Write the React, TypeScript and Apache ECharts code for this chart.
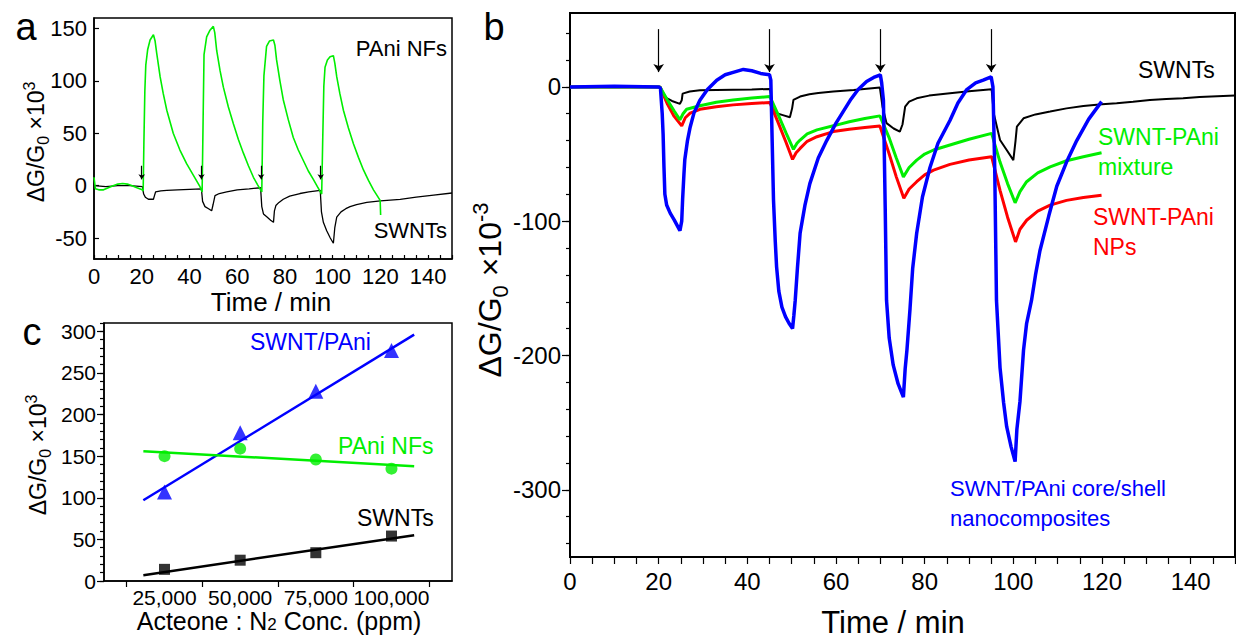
import React, { useEffect, useRef } from 'react';
import * as echarts from 'echarts';

const FONT = 'Arial, "Liberation Sans", Helvetica, sans-serif';
const GREEN = '#00ee00';
const RED = '#ff0000';
const BLUE = '#0000ff';
const BLACK = '#000000';

// ---------- Panel a : time traces (min, ΔG/G0 ×10^3) ----------
const aSwnts: [number, number][] = [
  [0, 0], [5, -1], [10, 0], [15, 0], [20.3, -1], [20.8, -8], [21.5, -11], [22.8, -13], [24.9, -13],
  [25.4, -9], [25.8, -6], [28, -5], [30.5, -4.5], [35, -4], [40, -3.5], [45, -3],
  [45.5, -15], [46.5, -20], [48, -22], [49.3, -24], [49.9, -18], [50.7, -9.5], [52.5, -7.5], [55.6, -6],
  [60, -4], [65, -3], [69.8, -2], [70.3, -20], [71, -27], [72.5, -30], [74, -33], [75.2, -35],
  [75.6, -24], [76.2, -19], [77.5, -16], [79.3, -13], [82, -10], [86.3, -7.5], [90, -6], [94.8, -4.5],
  [95.3, -25], [96.1, -35], [97.5, -43], [99, -50], [100.3, -55], [100.9, -40], [101.7, -30], [103.5, -25],
  [105.5, -22], [107.3, -20], [110, -18], [114.3, -16], [120, -14.5], [128.3, -13], [135, -11],
  [142.3, -9], [150, -7],
];
const aPaniNFs: [number, number][] = [
  [0, 8], [0.6, -3], [2, -4], [4, -4], [6, -2], [8, 0], [10, 1.5], [12, 2], [14, 1.5], [16, 0], [18, -2],
  [20.2, -4], [20.6, -5],
  [20.9, 40], [21.3, 90], [21.7, 115], [22.5, 130], [23.5, 139], [24.9, 144], [25.6, 138], [26.3, 126],
  [27.7, 104], [29, 88], [30.5, 72], [33.2, 50], [36, 34], [38.8, 21], [41.6, 10], [44.4, -1], [45.3, -6],
  [45.7, 60], [46.1, 125], [47.2, 142], [48.5, 148], [50, 152], [50.6, 146], [51.4, 129], [52.8, 110],
  [54.2, 94], [56.3, 75], [58.4, 59], [60.5, 44], [62.6, 31], [64.7, 19], [66.8, 8], [68.5, 1], [70.3, -6],
  [70.7, 60], [71.2, 105], [72.3, 133], [73.5, 138], [75.2, 139], [75.8, 134], [76.5, 120], [77.9, 100],
  [79.3, 82], [81.4, 63], [83.5, 46], [85.6, 34], [87.7, 24], [89.8, 14], [91.9, 6], [93.6, -1], [95.4, -8],
  [95.8, 40], [96.3, 95], [96.8, 113], [97.8, 120], [98.9, 123], [100.3, 124], [100.9, 117], [101.7, 104],
  [103, 88], [104.5, 72], [106.6, 55], [108.7, 40], [110.8, 27], [112.9, 15], [115, 5], [117.1, -4],
  [119.9, -14], [120.1, -28],
];
const aArrowTimes = [20, 45, 70, 95];
const aArrowFrom = 19;
const aArrowTo = 6;

// ---------- Panel b : time traces (min, ΔG/G0 ×10^-3) ----------
const bSwnts: [number, number][] = [
  [0, 0], [10, 0], [20.3, 0], [21, -5], [21.8, -8.4], [23, -10.5], [24.8, -12.7], [25.2, -10], [25.4, -5],
  [27, -3.5], [29.3, -2.5], [33, -2.3], [36.8, -2.1], [41, -1.9], [45.1, -1.5],
  [45.6, -12], [46.6, -19.6], [48, -21], [49.6, -22.6], [50.1, -16], [50.4, -9.7], [51.9, -7.2], [54, -5.5],
  [56, -4.6], [59.4, -3.5], [64, -2.3], [69.9, -0.5],
  [70.5, -15], [71.4, -27], [73, -31], [74.4, -33.3], [75, -28], [75.6, -14.7], [76.5, -11], [78.2, -8.5],
  [81, -6.5], [85.7, -4.7], [90, -3.3], [95.1, -1.7],
  [95.6, -20], [97, -39.6], [98.5, -47], [100, -54.5], [100.5, -40], [100.8, -29.6], [102.3, -23.4],
  [105, -20.5], [108.3, -18.4], [112, -16], [115.8, -14.2], [120, -13], [123.3, -12.2], [127, -11],
  [130.8, -9.7], [134.5, -9], [138.3, -8.5], [142, -7.5], [146, -7], [150, -6.5],
];
const bNPs: [number, number][] = [
  [0, 0], [20.3, 0], [22, -13], [23.5, -22], [25.2, -29], [26, -23], [27.1, -19.6], [29.3, -16.7], [33, -14.8],
  [36.8, -13.4], [41, -12.3], [45.1, -11.7],
  [47, -27], [48.7, -41], [50.2, -54], [51, -49], [51.9, -45.8], [53.5, -40.5], [55.7, -37.1], [59.4, -33.3],
  [63, -31.5], [66.5, -30.2], [69.9, -29.1],
  [72, -50], [73.6, -67], [75.3, -83], [76.5, -76], [78.2, -70.6], [80, -65.5], [82, -62], [85.7, -57.7],
  [90, -54.5], [95.1, -52],
  [97, -77], [98.7, -97], [100.5, -115.4], [101.5, -106], [103, -99.3], [105.5, -92.5], [108.3, -88],
  [112, -84.5], [115.8, -82.3], [119.9, -80.6],
];
const bMixture: [number, number][] = [
  [0, 0], [20.3, 0], [22, -10], [23.5, -18], [24.8, -24.6], [25.5, -20], [26.3, -16.7], [29.3, -14], [33, -11.5],
  [36.8, -9.7], [41, -8.2], [45.1, -7.2],
  [47, -21], [48.7, -34], [50.4, -46.5], [51.2, -42], [51.9, -39.6], [53.5, -35], [55.7, -32], [59.4, -29],
  [63, -26], [66.5, -23.5], [69.9, -21.6],
  [72, -38], [73.6, -53], [75.2, -67], [76.5, -60], [78.2, -54.5], [80, -50], [82, -47], [85.7, -43.3],
  [90, -39], [95.1, -34.6],
  [97, -56], [98.7, -72], [100.4, -86.3], [101.5, -78], [103, -70.6], [105.5, -64], [108.3, -59.5],
  [112, -55], [115.8, -52], [119.9, -49],
];
const bCoreShell: [number, number][] = [
  [0, 0], [10, 0.5], [20, 0], [20.4, -1], [20.8, -20], [21, -35], [21.2, -60], [21.4, -80], [21.8, -88],
  [22.6, -94], [23.5, -99], [24.8, -107], [25.2, -100], [25.4, -84], [25.7, -65], [25.9, -54], [26.5, -40],
  [27.1, -30], [28, -19], [29.3, -10], [31, -2], [33.1, 5], [35, 9], [37, 11], [39.1, 13], [41, 12], [43, 10],
  [45, 9],
  [45.3, 5], [45.6, -40], [45.9, -84], [46.3, -115], [46.6, -134], [47.1, -152], [47.8, -164], [48.6, -171],
  [49.4, -176], [50.2, -180], [50.5, -170], [50.8, -159], [51.3, -135], [51.9, -109], [53, -88], [54.1, -72],
  [56, -53], [57.9, -40], [60, -27], [63.2, -10], [65, -2], [66.9, 4], [68.5, 7], [70, 9],
  [70.3, 3], [70.7, -10], [71.1, -90], [71.4, -159], [72, -187], [72.9, -207], [74, -221], [75.2, -231],
  [75.6, -210], [76, -196], [76.7, -165], [77.3, -135], [78.2, -109], [79.5, -82], [81.2, -60], [83, -42],
  [85.7, -25], [87.5, -12], [89.5, -2], [91.5, 3], [93.2, 5], [95, 7.5],
  [95.4, 0], [95.8, -60], [96.2, -159], [97, -209], [97.8, -235], [98.5, -253], [99.5, -268], [100.4, -279],
  [100.8, -255], [101.5, -234], [102.3, -196], [103, -176], [104.1, -159], [105, -140], [106, -122],
  [108, -96], [109.8, -74], [112, -56], [114.3, -40], [117, -24], [119.9, -11],
];
const bArrowTimes = [20, 45, 70, 95];
const bArrowFrom = 43;
const bArrowTo = 11;

// ---------- Panel c : response vs concentration ----------
const cConc = [25000, 50000, 75000, 100000];
const cCoreShell = [107, 178, 228, 277];
const cPaniNFs = [150, 159, 146, 135];
const cSwnts = [14, 25, 34, 54];
const cFitConc = [18000, 107500];
const cCoreShellFit = [97, 296];
const cPaniNFsFit = [156, 138];
const cSwntsFit = [7, 55];

// ---------- tick / label values ----------
const aXLabels = [0, 20, 40, 60, 80, 100, 120, 140];
const aXTicks = Array.from({ length: 31 }, (_, i) => i * 5);
const aYLabels = [-50, 0, 50, 100, 150];
const bXLabels = [0, 20, 40, 60, 80, 100, 120, 140];
const bXTicks = Array.from({ length: 31 }, (_, i) => i * 5);
const bYLabels = [-300, -200, -100, 0];
const bYMinor = Array.from({ length: 20 }, (_, i) => -340 + i * 20);
const cXLabels = [25000, 50000, 75000, 100000];
const cXTicks = [12500, 37500, 62500, 87500, 112500];
const cYLabels = [0, 50, 100, 150, 200, 250, 300];
const cYMinor = Array.from({ length: 32 }, (_, i) => i * 10);

function xAxisDef(grid: number, min: number, max: number, ticks: number[], labels: number[], o: any) {
  return {
    type: 'value', gridIndex: grid, min, max, position: 'bottom',
    axisLine: { show: true, onZero: false, lineStyle: { color: BLACK, width: o.lineW ?? 1.5 } },
    axisTick: { show: true, inside: !!o.inside, length: o.tickLen, customValues: ticks, lineStyle: { color: BLACK, width: 1.2 } },
    axisLabel: {
      show: true, customValues: labels, color: BLACK, fontFamily: FONT, fontSize: o.fontSize, margin: o.margin,
      lineHeight: o.fontSize, formatter: o.formatter,
    },
    splitLine: { show: false },
  };
}
function yAxisDef(grid: number, min: number, max: number, ticks: number[], labels: number[] | null, o: any) {
  return {
    type: 'value', gridIndex: grid, min, max, position: 'left',
    axisLine: { show: !o.minor, onZero: false, lineStyle: { color: BLACK, width: o.lineW ?? 1.5 } },
    axisTick: { show: true, inside: !!o.inside, length: o.tickLen, customValues: ticks, lineStyle: { color: BLACK, width: 1.2 } },
    axisLabel: labels
      ? { show: true, customValues: labels, color: BLACK, fontFamily: FONT, fontSize: o.fontSize, margin: o.margin }
      : { show: false },
    splitLine: { show: false },
  };
}

function txt(x: number, y: number, text: string, size: number, color: string, align: string = 'left') {
  return {
    type: 'text', x, y, silent: true,
    style: { text, fontSize: size, fontFamily: FONT, fill: color, align, verticalAlign: 'middle' },
  };
}
function richLabel(x: number, y: number, size: number, parts: string, rotate: boolean, lhf: number = 1.3, subf: number = 0.62) {
  const lh = Math.round(size * lhf);
  return {
    type: 'text', x, y, silent: true, rotation: rotate ? Math.PI / 2 : 0,
    style: {
      text: parts, align: 'center', verticalAlign: 'middle', fontFamily: FONT, fontSize: size, fill: BLACK,
      rich: {
        m: { fontSize: size, fontFamily: FONT, fill: BLACK, lineHeight: lh, verticalAlign: 'middle' },
        sub: { fontSize: Math.round(size * 0.68), fontFamily: FONT, fill: BLACK, lineHeight: Math.round(size * subf), verticalAlign: 'bottom' },
        sup: { fontSize: Math.round(size * 0.68), fontFamily: FONT, fill: BLACK, lineHeight: Math.round(size * 0.62), verticalAlign: 'top' },
      },
    },
  };
}

function arrowMark(times: number[], from: number, to: number, size: number) {
  return {
    silent: true, symbol: ['none', 'arrow'], symbolSize: size, precision: 4,
    label: { show: false }, emphasis: { disabled: true },
    lineStyle: { color: BLACK, width: 1.2, type: 'solid' },
    data: times.map((t) => [{ coord: [t, from] }, { coord: [t, to] }]),
  };
}

export default function App() {
  const ref = useRef<HTMLDivElement>(null);
  useEffect(() => {
    if (!ref.current) return;
    const chart = echarts.init(ref.current, undefined, { renderer: 'svg' });
    const lineBase = { type: 'line', showSymbol: false, symbol: 'none', smooth: false, silent: true, z: 3 };
    const option: any = {
      animation: false,
      backgroundColor: '#ffffff',
      textStyle: { fontFamily: FONT },
      grid: [
        { left: 94, top: 18, width: 358, height: 241, show: true, borderColor: BLACK, borderWidth: 1.5, backgroundColor: 'transparent' },
        { left: 570, top: 13, width: 665, height: 544, show: true, borderColor: BLACK, borderWidth: 2, backgroundColor: 'transparent' },
        { left: 104, top: 323, width: 348, height: 258, show: true, borderColor: BLACK, borderWidth: 1.5, backgroundColor: 'transparent' },
      ],
      xAxis: [
        xAxisDef(0, 0, 150, aXTicks, aXLabels, { inside: true, tickLen: 4, fontSize: 22, margin: 6 }),
        xAxisDef(1, 0, 150, bXTicks, bXLabels, { inside: false, tickLen: 7, fontSize: 24, margin: 12, lineW: 2 }),
        xAxisDef(2, 5000, 120000, cXTicks, cXLabels, {
          inside: false, tickLen: 6, fontSize: 21, margin: 6,
          formatter: (v: number) => v.toLocaleString('en-US'),
        }),
      ],
      yAxis: [
        yAxisDef(0, -70, 160, aYLabels, aYLabels, { inside: true, tickLen: 5, fontSize: 22, margin: 7 }),
        yAxisDef(1, -350, 55, bYLabels, bYLabels, { inside: false, tickLen: 8, fontSize: 24, margin: 9, lineW: 2 }),
        yAxisDef(1, -350, 55, bYMinor, null, { inside: false, tickLen: 4, minor: true }),
        yAxisDef(2, 0, 310, cYLabels, cYLabels, { inside: false, tickLen: 7, fontSize: 21, margin: 8 }),
        yAxisDef(2, 0, 310, cYMinor, null, { inside: false, tickLen: 4, minor: true }),
      ],
      series: [
        // panel a
        { ...lineBase, name: 'a SWNTs', xAxisIndex: 0, yAxisIndex: 0, data: aSwnts, lineStyle: { color: BLACK, width: 1.3 },
          markLine: arrowMark(aArrowTimes, aArrowFrom, aArrowTo, 5) },
        { ...lineBase, name: 'a PAni NFs', xAxisIndex: 0, yAxisIndex: 0, data: aPaniNFs, lineStyle: { color: GREEN, width: 1.6 } },
        // panel b
        { ...lineBase, name: 'b SWNTs', xAxisIndex: 1, yAxisIndex: 1, data: bSwnts, lineStyle: { color: BLACK, width: 2 },
          markLine: arrowMark(bArrowTimes, bArrowFrom, bArrowTo, 8) },
        { ...lineBase, name: 'b NPs', xAxisIndex: 1, yAxisIndex: 1, data: bNPs, lineStyle: { color: RED, width: 3 } },
        { ...lineBase, name: 'b mixture', xAxisIndex: 1, yAxisIndex: 1, data: bMixture, lineStyle: { color: GREEN, width: 3 } },
        { ...lineBase, name: 'b core/shell', xAxisIndex: 1, yAxisIndex: 1, data: bCoreShell, lineStyle: { color: BLUE, width: 3.5 } },
        // panel c fits
        { ...lineBase, name: 'c core fit', xAxisIndex: 2, yAxisIndex: 3, data: cFitConc.map((x, i) => [x, cCoreShellFit[i]]), lineStyle: { color: BLUE, width: 2.5 } },
        { ...lineBase, name: 'c NFs fit', xAxisIndex: 2, yAxisIndex: 3, data: cFitConc.map((x, i) => [x, cPaniNFsFit[i]]), lineStyle: { color: GREEN, width: 2.5 } },
        { ...lineBase, name: 'c SWNT fit', xAxisIndex: 2, yAxisIndex: 3, data: cFitConc.map((x, i) => [x, cSwntsFit[i]]), lineStyle: { color: BLACK, width: 2.5 } },
        // panel c points
        { type: 'scatter', name: 'c core', xAxisIndex: 2, yAxisIndex: 3, symbol: 'triangle', symbolSize: 15, silent: true, z: 4,
          data: cConc.map((x, i) => [x, cCoreShell[i]]), itemStyle: { color: BLUE } },
        { type: 'scatter', name: 'c NFs', xAxisIndex: 2, yAxisIndex: 3, symbol: 'circle', symbolSize: 12, silent: true, z: 4,
          data: cConc.map((x, i) => [x, cPaniNFs[i]]), itemStyle: { color: GREEN } },
        { type: 'scatter', name: 'c SWNTs', xAxisIndex: 2, yAxisIndex: 3, symbol: 'rect', symbolSize: 11, silent: true, z: 4,
          data: cConc.map((x, i) => [x, cSwnts[i]]), itemStyle: { color: BLACK } },
      ],
      graphic: [
        txt(26, 27, 'a', 38, BLACK, 'center'),
        txt(494, 27, 'b', 38, BLACK, 'center'),
        txt(32, 332, 'c', 38, BLACK, 'center'),
        // panel a
        txt(447, 48, 'PAni NFs', 22, BLACK, 'right'),
        txt(447, 230, 'SWNTs', 22, BLACK, 'right'),
        richLabel(36, 142, 23, '{m|ΔG/G}{sub|0}{m| ×10}{sup|3}', true),
        txt(271, 302, 'Time / min', 26, BLACK, 'center'),
        // panel b
        txt(1138, 70, 'SWNTs', 23, BLACK, 'left'),
        txt(1098, 137, 'SWNT-PAni', 23, GREEN, 'left'),
        txt(1098, 167, 'mixture', 23, GREEN, 'left'),
        txt(1093, 217, 'SWNT-PAni', 23, RED, 'left'),
        txt(1093, 247, 'NPs', 23, RED, 'left'),
        txt(950, 488, 'SWNT/PAni core/shell', 22, BLUE, 'left'),
        txt(950, 518, 'nanocomposites', 22, BLUE, 'left'),
        richLabel(490, 290, 32, '{m|ΔG/G}{sub|0}{m| ×10}{sup|-3}', true),
        txt(893, 622, 'Time / min', 31, BLACK, 'center'),
        // panel c
        txt(250, 342, 'SWNT/PAni', 23, BLUE, 'left'),
        txt(338, 446, 'PAni NFs', 23, GREEN, 'left'),
        txt(357, 518, 'SWNTs', 23, BLACK, 'left'),
        richLabel(38, 455, 23, '{m|ΔG/G}{sub|0}{m| ×10}{sup|3}', true),
        richLabel(279, 621, 25, '{m|Acteone : N}{sub|2}{m| Conc. (ppm)}', false, 0.95, 0.3),
      ],
    };
    chart.setOption(option);
    return () => chart.dispose();
  }, []);
  return (
    <div
      ref={ref}
      style={{ position: 'fixed', left: 0, top: 0, width: 1236, height: 640, background: '#fff' }}
    />
  );
}
